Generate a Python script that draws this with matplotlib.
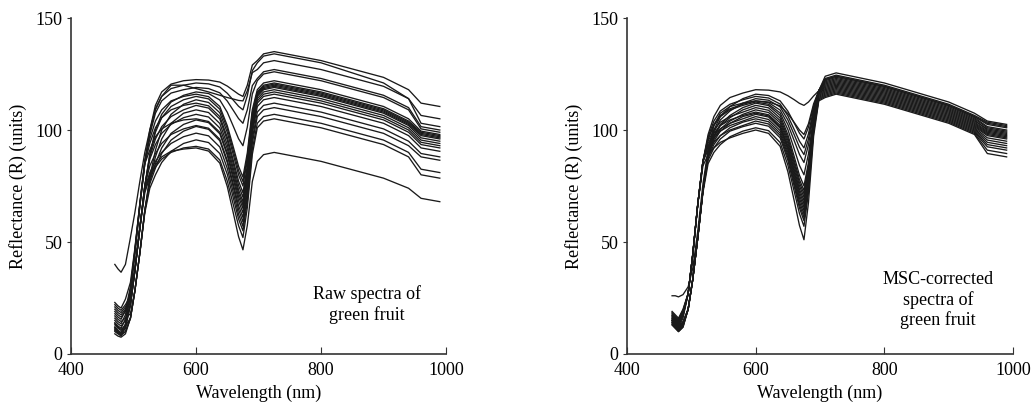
import matplotlib
matplotlib.use("Agg")
import matplotlib.pyplot as plt

plt.rcParams['font.family'] = ['Liberation Serif', 'DejaVu Serif']

wavelengths = [470, 475, 480, 487, 495, 502, 510, 518, 526, 535, 545, 560, 580, 600, 620,
               638, 650, 660, 668, 675, 682, 690, 698, 708, 725, 800, 900, 940, 960, 990]

# raw spectra of green fruit
raw_spectra = [
    [40, 38, 36.5, 40, 52, 63, 77, 90, 100, 109, 115, 120, 120, 118.5, 117, 115.5, 114.5, 113.8, 113.2, 113, 117.5, 125.6, 127, 130, 131, 127, 119.5, 114, 103, 101.5],
    [14, 12.5, 11.5, 15.5, 28, 45, 66, 85, 100, 111, 117, 120.5, 122, 122.5, 122.3, 121.4, 119.6, 117.6, 116, 115, 120, 129, 131, 134, 135, 131, 123.5, 118, 112, 110.5],
    [16, 14.5, 13.5, 17.5, 29, 46, 67, 86, 99, 109.5, 115, 118.5, 120, 121, 120.6, 119.2, 116.4, 113.2, 110.6, 109, 115.3, 126.5, 130, 133, 134, 130, 121, 114, 106.5, 105],
    [18, 16.5, 15.5, 19.5, 30, 46, 67, 86, 98, 107.5, 113, 116.5, 118, 119, 118.5, 116.6, 112.9, 108.6, 105.1, 103, 109, 119.8, 123, 126, 127, 123, 115.5, 110, 101.5, 100],
    [21, 19.5, 18.5, 21, 25, 37, 56, 75, 89, 100, 107, 112.5, 115.5, 117, 116.3, 113.4, 107.9, 101.4, 96.1, 93, 101.3, 116.1, 122, 125, 126, 122, 114.5, 109, 100.5, 99],
    [23, 21.5, 20.5, 24.5, 32, 47, 67, 86, 96, 104, 109, 113, 115, 116, 114.9, 110.5, 101.9, 92, 83.8, 79, 89.8, 109.1, 118, 121, 122, 118, 110.5, 105, 99.5, 98],
    [13, 11.5, 10.5, 13, 22, 37, 56, 75, 89, 99, 105.5, 110.5, 113.5, 115, 113.9, 109.3, 100.6, 90.3, 81.9, 77, 88, 107.8, 117, 120, 121, 117, 109.5, 104, 99, 97.5],
    [17, 15.5, 14.5, 16, 18, 28, 45, 64, 79, 91, 100, 107, 111.5, 113.5, 112.3, 107.7, 98.9, 88.5, 80, 75, 86.4, 106.9, 116.5, 119.5, 120.5, 116.5, 109, 103.5, 98.5, 97],
    [12, 10.5, 9.5, 13.5, 28, 45, 66, 85, 94, 101, 105.5, 109, 111, 112, 110.8, 106, 96.8, 86, 77.2, 72, 84, 105.6, 116, 119, 120, 116, 108.5, 103, 98, 96.5],
    [15, 13.5, 12.5, 15, 22, 37, 56, 75, 88, 96, 101.5, 106, 109, 111, 109.8, 104.9, 95.4, 84.4, 75.3, 70, 82.4, 104.7, 115.5, 118.5, 119.5, 115.5, 108, 102.5, 97.5, 96],
    [11, 9.5, 8.5, 10, 16, 28, 45, 64, 78, 88, 96, 103, 107.5, 109, 107.8, 102.9, 93.4, 82.4, 73.3, 68, 80.8, 103.7, 115, 118, 119, 115, 107.5, 102, 96.5, 95],
    [19, 17.5, 16.5, 19, 23, 37, 56, 75, 87, 93.5, 98.5, 102.5, 105.5, 107, 105.8, 100.9, 91.6, 80.7, 71.8, 66.5, 79.4, 102.6, 114, 117, 118, 114, 106.5, 101, 95.5, 94],
    [10, 9, 8, 12, 28, 45, 66, 85, 91, 97, 100.5, 103, 104.5, 105, 103.8, 99, 89.8, 79, 70.2, 65, 78, 101.4, 113, 116, 117, 113, 105.5, 100, 94.5, 93],
    [13.5, 12, 11, 12.5, 16, 28, 45, 64, 77, 85, 92, 98.5, 102.5, 104.5, 103.3, 98.3, 88.7, 77.5, 68.4, 63, 76.3, 100.1, 112, 115, 116, 112, 104.5, 99, 93.5, 92],
    [12, 10.5, 9.5, 12, 22, 37, 56, 75, 84, 89.5, 94, 98, 100.5, 102, 100.8, 95.9, 86.4, 75.4, 66.3, 61, 74.4, 98.5, 110.5, 113.5, 114.5, 110.5, 103, 97.5, 92, 90.5],
    [9, 8, 7.5, 9, 16, 28, 45, 64, 76, 83, 89.5, 95.5, 99.5, 101.6, 100.3, 95.2, 85.4, 73.9, 64.5, 59, 72.3, 96.1, 108, 111, 112, 108, 100.5, 95, 89.5, 88],
    [11.5, 10, 9, 11.5, 22, 37, 56, 74, 81, 86, 90, 94, 97, 98.6, 97.4, 92.4, 82.8, 71.6, 62.4, 57, 70.3, 94.1, 106, 109, 110, 106, 98.5, 93, 88, 86.5],
    [10.5, 9.5, 8.5, 10, 16, 28, 45, 63, 74, 80, 85.5, 90.5, 94, 95.6, 94.4, 89.5, 80.2, 69.2, 60.3, 55, 68, 91.4, 103, 106, 107, 103, 95.5, 90, 82.5, 81],
    [20, 18.5, 17.5, 20, 24, 37, 56, 72, 79, 83.5, 87, 90, 92, 92.7, 91.5, 86.6, 77.2, 66.2, 57.3, 52, 65.3, 89.1, 101, 104, 105, 101, 93.5, 88, 80, 78.5],
    [22, 20.5, 19.5, 22, 26, 38, 57, 73, 80, 84.5, 88, 90.5, 91.5, 92, 90.6, 85.2, 74.7, 62.4, 52.4, 46.5, 57.4, 77, 86, 89, 90, 86, 78.5, 74, 69.5, 68],
]

# MSC-corrected spectra of green fruit
msc_spectra = [
    [26, 26, 25.5, 26.5, 30, 38, 55, 76, 91, 102, 107.5, 110.5, 112, 113, 112.5, 110.8, 107.3, 103.3, 100, 98, 102.8, 111.7, 117.5, 120.5, 122, 117.5, 109, 104, 100.5, 99],
    [17, 15.5, 14, 18, 27, 44, 67, 86, 98, 106, 111, 114.5, 116.5, 118, 117.8, 117, 115.3, 113.5, 111.9, 111, 112.5, 115.2, 117.5, 122.5, 124, 119.5, 111, 106, 102.5, 101],
    [15, 13.5, 12, 14, 20, 33, 52, 73, 90, 100, 106, 110.5, 114, 116, 115.4, 113, 108.4, 103, 98.6, 96, 101.3, 110.7, 117.5, 124, 125.5, 121, 112.5, 107.5, 104, 102.5],
    [18, 16.5, 15, 19, 27, 44, 67, 86, 97, 104, 108.5, 111.5, 113.5, 115, 114.3, 111.6, 106.3, 100.1, 95, 92, 98.3, 109.5, 117.5, 123, 124.5, 120, 111.5, 106.5, 103.5, 102],
    [14, 12.5, 11, 13, 20, 33, 52, 73, 90, 99, 104.5, 108.5, 112, 114, 113.3, 110.3, 104.5, 97.8, 92.3, 89, 96, 108.6, 117.5, 122.5, 124, 119.5, 111, 106, 103, 101.5],
    [16, 14.5, 13, 17, 27, 44, 67, 86, 96, 102.5, 106.5, 109.5, 111.5, 113, 112.2, 108.9, 102.5, 95.1, 89.1, 85.5, 93.4, 107.6, 117.5, 122, 123.5, 119, 110.5, 105.5, 101.5, 100],
    [19, 17.5, 16, 20, 27, 44, 67, 86, 96, 102, 106, 109, 111, 112.5, 111.5, 107.6, 100.2, 91.4, 84.2, 80, 89.3, 105.9, 117.5, 121.5, 123, 118.5, 110, 105, 101, 99.5],
    [15.5, 14, 12.5, 14.5, 20, 33, 52, 73, 89, 97.5, 102.5, 106.5, 110, 112, 110.9, 106.5, 97.9, 88, 79.8, 75, 85.5, 104.4, 117.5, 121, 122.5, 118, 109.5, 104.5, 100, 98.5],
    [13, 11.5, 10, 12, 20, 33, 52, 73, 89, 97, 102, 105.5, 109, 111, 109.9, 105.3, 96.6, 86.3, 77.9, 73, 84, 103.8, 117, 120, 121.5, 117, 108.5, 103.5, 99.5, 98],
    [17.5, 16, 14.5, 18.5, 27, 44, 67, 86, 95, 100, 103.5, 106, 108, 110, 108.8, 104.2, 95.4, 85, 76.5, 71.5, 82.9, 103.4, 117, 119.5, 121, 116.5, 108, 103, 99, 97.5],
    [14.5, 13, 11.5, 13.5, 20, 33, 52, 73, 88.5, 96, 100.5, 104, 107, 109, 107.8, 103.2, 94.2, 83.7, 75.1, 70, 81.8, 102.9, 117, 119, 120.5, 116, 107.5, 102.5, 98.5, 97],
    [16.5, 15, 13.5, 17.5, 27, 44, 67, 86, 94, 98.5, 102, 104.5, 106.5, 108, 106.8, 102.1, 93, 82.3, 73.6, 68.5, 80.6, 102.5, 116.5, 118.5, 120, 115.5, 107, 102, 98, 96.5],
    [13.5, 12, 10.5, 12.5, 20, 33, 52, 73, 88, 95, 99.5, 103, 106, 107.5, 106.3, 101.4, 92.1, 81.2, 72.3, 67, 79.5, 102, 116.5, 118, 119.5, 115, 106.5, 101.5, 97.5, 96],
    [15, 13.5, 12, 16, 27, 44, 67, 86, 93, 97.5, 100.5, 103, 105, 107, 105.8, 100.8, 91.2, 80, 70.9, 65.5, 78.4, 101.4, 116, 117.5, 119, 114.5, 106, 101, 96.5, 95],
    [18.5, 17, 15.5, 19.5, 27, 44, 67, 86, 92.5, 96.5, 99.5, 102, 104, 106, 104.7, 99.7, 90, 78.7, 69.5, 64, 77.3, 101.1, 115.5, 117, 118.5, 114, 105.5, 100.5, 95.5, 94],
    [14, 12.5, 11, 13, 20, 33, 52, 73, 87.5, 93.5, 97.5, 101, 103.5, 105, 103.7, 98.6, 88.9, 77.4, 68, 62.5, 76.1, 100.7, 115, 116.5, 118, 113.5, 105, 100, 94.5, 93],
    [16, 14.5, 13, 17, 27, 44, 67, 86, 91, 94.5, 97.5, 100, 102, 104, 102.7, 97.6, 87.7, 76.1, 66.6, 61, 75, 100.2, 114.5, 116, 117.5, 113, 104.5, 99.5, 93.5, 92],
    [13, 11.5, 10, 12, 20, 33, 52, 73, 86.5, 92, 96, 99.5, 101.5, 103, 101.7, 96.5, 86.5, 74.7, 65.2, 59.5, 73.9, 99.8, 114, 115.5, 117, 112.5, 104, 99, 92.5, 91],
    [15, 13.5, 12, 14, 20, 33, 52, 72, 85, 90, 93.5, 97, 99.5, 101, 99.7, 94.4, 84.3, 72.4, 62.7, 57, 72, 99, 113.5, 115, 116.5, 112, 103.5, 98.5, 91, 89.5],
    [17, 15.5, 14, 18, 27, 44, 67, 84, 89, 92, 94.5, 96.5, 98.5, 100, 98.5, 92.7, 81.4, 68.2, 57.4, 51, 67.5, 97.2, 113, 114.5, 116, 111.5, 103, 98, 89.5, 88],
]

xticks = [400, 600, 800, 1000]
yticks = [0, 50, 100, 150]

fig = plt.figure(figsize=(10.33, 4.03), dpi=100)
ax1 = fig.add_axes([0.0688, 0.1216, 0.3630, 0.8337])
ax2 = fig.add_axes([0.6070, 0.1216, 0.3737, 0.8337])

panels = [(ax1, raw_spectra, "Raw spectra of\ngreen fruit", 873, 22),
          (ax2, msc_spectra, "MSC-corrected\nspectra of\ngreen fruit", 883, 24)]

for ax, spectra, label, tx, ty in panels:
    for s in spectra:
        ax.plot(wavelengths, s, color="#1a1a1a", lw=0.95, solid_joinstyle="round")
    ax.set_xlim(400, 1000)
    ax.set_ylim(0, 150)
    ax.set_xticks(xticks)
    ax.set_yticks(yticks)
    ax.spines["top"].set_visible(False)
    ax.spines["right"].set_visible(False)
    for sp in ["left", "bottom"]:
        ax.spines[sp].set_color("#333333")
        ax.spines[sp].set_linewidth(1.2)
    ax.tick_params(axis="x", direction="in", length=5, labelsize=13, pad=6, color="#333333")
    ax.tick_params(axis="y", direction="out", length=3, labelsize=13, pad=3, color="#333333")
    ax.set_xlabel("Wavelength (nm)", fontsize=13, labelpad=4)
    ax.set_ylabel("Reflectance (R) (units)", fontsize=13, labelpad=6)
    ax.text(tx, ty, label, fontsize=13, ha="center", va="center", linespacing=1.2)

fig.savefig("out.png", dpi=100)
